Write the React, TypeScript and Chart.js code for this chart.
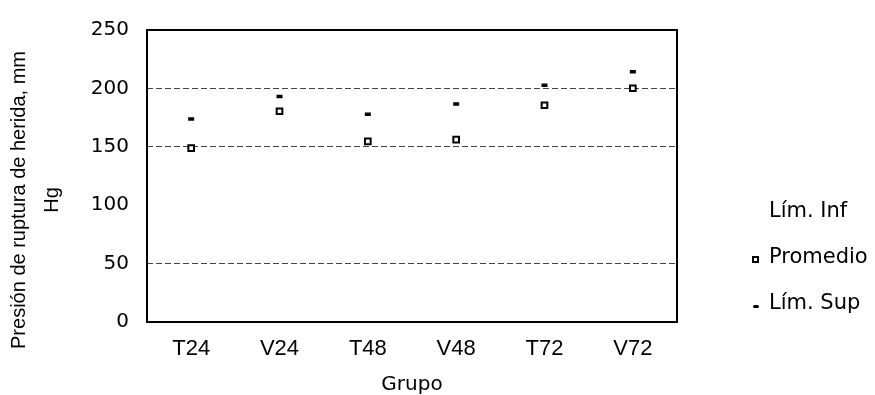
import React, { useEffect, useRef } from "react";
import { Chart, registerables } from "chart.js";

Chart.register(...registerables);

const categories = ["T24", "V24", "T48", "V48", "T72", "V72"];
const limInf: (number | null)[] = [null, null, null, null, null, null];
const promedio = [148.8, 180.4, 154.7, 156.1, 185.6, 200.1];
const limSup = [173.7, 193.1, 177.8, 186.7, 202.6, 214.3];
const yTicks = [0, 50, 100, 150, 200, 250];
const gridValues = [50, 150, 200];
const yTitleLines = ["Presión de ruptura de herida, mm", "Hg"];
const xTitle = "Grupo";
const legendLabels = ["Lím. Inf", "Promedio", "Lím. Sup"];

const framePlugin = {
  id: "frame",
  afterDraw(chart: any) {
    const { ctx, chartArea } = chart;
    ctx.save();
    ctx.strokeStyle = "#000";
    ctx.lineWidth = 2;
    ctx.strokeRect(chartArea.left, chartArea.top, chartArea.right - chartArea.left, chartArea.bottom - chartArea.top);
    ctx.restore();
  },
};

export default function App() {
  const ref = useRef<HTMLCanvasElement | null>(null);

  useEffect(() => {
    if (!ref.current) return;
    const chart = new Chart(ref.current, {
      type: "line",
      data: {
        labels: categories,
        datasets: [
          {
            label: legendLabels[0],
            data: limInf,
            showLine: false,
            pointRadius: 0,
            borderColor: "#000",
            backgroundColor: "#000",
          },
          {
            label: legendLabels[1],
            data: promedio,
            showLine: false,
            pointStyle: "rect",
            pointRadius: 4,
            pointBorderWidth: 2,
            pointBorderColor: "#000",
            pointBackgroundColor: "#fff",
            borderColor: "#000",
            backgroundColor: "#fff",
          },
          {
            label: legendLabels[2],
            data: limSup,
            showLine: false,
            pointStyle: "line",
            pointRadius: 3,
            pointBorderWidth: 3.5,
            pointBorderColor: "#000",
            pointBackgroundColor: "#000",
            borderColor: "#000",
            backgroundColor: "#000",
          },
        ],
      },
      options: {
        animation: false,
        responsive: false,
        devicePixelRatio: 1,
        layout: { padding: { top: 23, right: 198, left: 0, bottom: 0 } },
        plugins: {
          legend: { display: false },
          tooltip: { enabled: false },
        },
        scales: {
          x: {
            type: "category",
            offset: true,
            grid: { display: false, drawTicks: false },
            border: { display: false },
            ticks: {
              color: "#000",
              padding: 14,
              font: { family: "'Liberation Sans', Arial", size: 22 },
              maxRotation: 0,
            },
            title: {
              display: true,
              text: xTitle,
              color: "#000",
              font: { family: "'DejaVu Sans'", size: 20, lineHeight: 1 },
              padding: { top: 0, bottom: 0 },
            },
            afterFit(scale: any) {
              scale.height = 73;
            },
          },
          y: {
            min: 0,
            max: 250,
            afterBuildTicks(scale: any) {
              scale.ticks = yTicks.map((v) => ({ value: v }));
            },
            grid: {
              drawTicks: false,
              lineWidth: 1,
              color: (ctx: any) =>
                ctx.tick && gridValues.includes(ctx.tick.value) ? "#444" : "rgba(0,0,0,0)",
            },
            border: { display: false, dash: [6, 3] },
            ticks: {
              color: "#000",
              padding: 18,
              font: { family: "'DejaVu Sans'", size: 20 },
            },
            afterFit(scale: any) {
              scale.width = 147;
            },
          },
        },
      },
      plugins: [framePlugin],
    });
    return () => chart.destroy();
  }, []);

  const legendText: React.CSSProperties = {
    position: "absolute",
    left: 769,
    fontFamily: "'DejaVu Sans'",
    fontSize: 21,
    lineHeight: "21px",
    color: "#000",
    whiteSpace: "nowrap",
  };

  return (
    <div style={{ position: "absolute", left: 0, top: 0, width: 875, height: 395, background: "#fff", overflow: "hidden" }}>
      <canvas ref={ref} width={875} height={395} style={{ display: "block", width: 875, height: 395 }} />
      <div
        style={{
          position: "absolute",
          left: -125.5,
          top: 167,
          width: 320,
          height: 66,
          transform: "rotate(-90deg)",
          transformOrigin: "center center",
          textAlign: "center",
          fontFamily: "'Liberation Sans', Arial",
          fontSize: 20,
          lineHeight: "33px",
          color: "#000",
          whiteSpace: "nowrap",
        }}
      >
        {yTitleLines.map((l) => (
          <div key={l}>{l}</div>
        ))}
      </div>
      <div style={{ ...legendText, top: 200 }}>{legendLabels[0]}</div>
      <div style={{ ...legendText, top: 246 }}>{legendLabels[1]}</div>
      <div
        style={{
          position: "absolute",
          left: 752,
          top: 256,
          width: 7,
          height: 7,
          border: "2px solid #000",
          boxSizing: "border-box",
          background: "#fff",
        }}
      />
      <div style={{ ...legendText, top: 292 }}>{legendLabels[2]}</div>
      <div
        style={{
          position: "absolute",
          left: 753,
          top: 304.5,
          width: 6,
          height: 3.5,
          background: "#000",
          borderRadius: 2,
        }}
      />
    </div>
  );
}
